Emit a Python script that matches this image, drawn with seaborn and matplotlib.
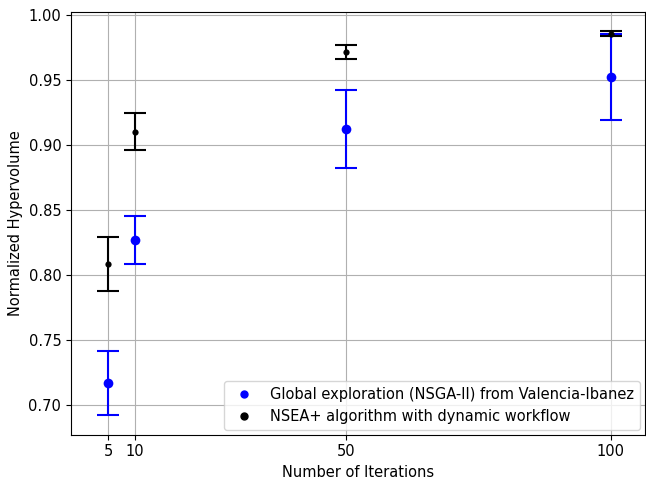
import pandas as pd
import matplotlib.pyplot as plt
import seaborn as sns
from matplotlib.lines import Line2D

iterations = [5, 10, 50, 100]

# Global exploration (NSGA-II) from Valencia-Ibanez
nsga_mean = [0.717, 0.827, 0.912, 0.952]
nsga_err = [0.0245, 0.0185, 0.030, 0.033]

# NSEA+ algorithm with dynamic workflow
nsea_mean = [0.808, 0.910, 0.9715, 0.9855]
nsea_err = [0.0208, 0.0143, 0.0055, 0.002]

labels = ['Global exploration (NSGA-II) from Valencia-Ibanez',
          'NSEA+ algorithm with dynamic workflow']

df = pd.DataFrame({
    'Iterations': iterations * 2,
    'HV': nsga_mean + nsea_mean,
    'Err': nsga_err + nsea_err,
    'Method': [labels[0]] * 4 + [labels[1]] * 4,
})

plt.rcParams['font.size'] = 10.5

fig, ax = plt.subplots(figsize=(6.46, 4.83), dpi=100)
fig.subplots_adjust(left=0.11, right=0.998, top=0.975, bottom=0.1)

colors = {labels[0]: 'blue', labels[1]: 'black'}
msizes = {labels[0]: 7, labels[1]: 4.5}
for m in labels:
    d = df[df['Method'] == m]
    ax.errorbar(d['Iterations'], d['HV'], yerr=d['Err'], fmt='none',
                ecolor=colors[m], capsize=8, elinewidth=1.5, capthick=1.5, zorder=3)
    sns.scatterplot(data=d, x='Iterations', y='HV', color=colors[m],
                    s=msizes[m] ** 2, edgecolor=colors[m], linewidth=0,
                    ax=ax, zorder=4, legend=False)

handles = [Line2D([], [], ls='none', marker='o', color=colors[m], markersize=5)
           for m in labels]
ax.legend(handles, labels, loc='lower right', borderaxespad=0.3)

ax.set_xlim(-2, 106.4)
ax.set_ylim(0.677, 1.002)
ax.set_xticks(iterations)
ax.set_yticks([0.70, 0.75, 0.80, 0.85, 0.90, 0.95, 1.00])
ax.set_yticklabels([f'{v:.2f}' for v in [0.70, 0.75, 0.80, 0.85, 0.90, 0.95, 1.00]])
ax.grid(True)
ax.set_axisbelow(True)
ax.set_xlabel('Number of Iterations')
ax.set_ylabel('Normalized Hypervolume')

fig.savefig('out.png', dpi=100)
